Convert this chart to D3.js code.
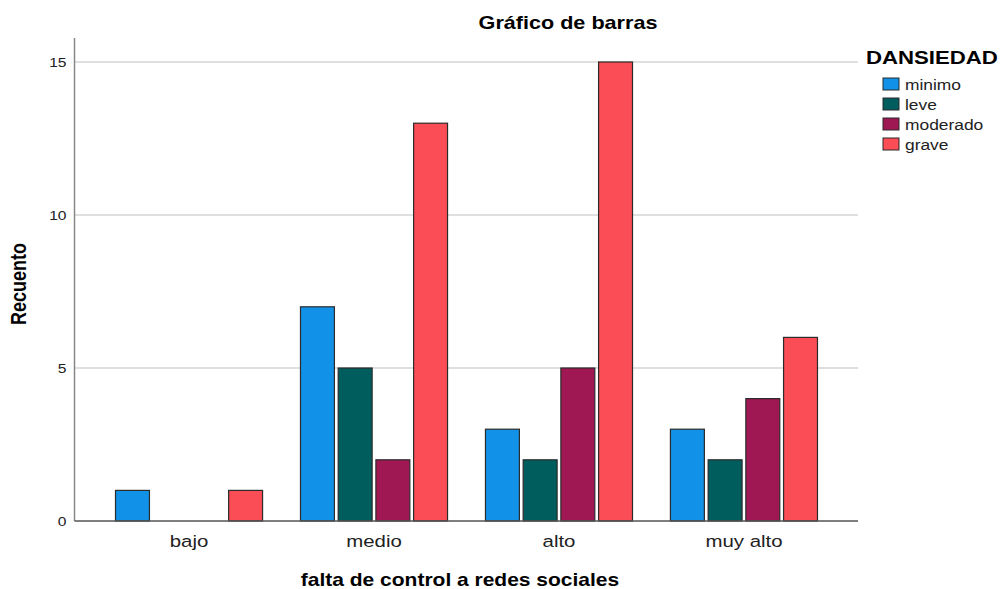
<!DOCTYPE html>
<html>
<head>
<meta charset="utf-8">
<script src="https://cdn.jsdelivr.net/npm/d3@7"></script>
<style>
  body { margin: 0; background: #fff; }
  svg { display: block; font-family: "Liberation Sans", Arial, sans-serif; }
</style>
</head>
<body>
<svg id="chart" width="1000" height="589"></svg>
<script>
const categories = ["bajo", "medio", "alto", "muy alto"];
const seriesNames = ["minimo", "leve", "moderado", "grave"];
const minimo = [1, 7, 3, 3];
const leve = [0, 5, 2, 2];
const moderado = [0, 2, 5, 4];
const grave = [1, 13, 15, 6];
const yTicks = [0, 5, 10, 15];
const colors = ["#1192E8", "#005D5D", "#9F1853", "#FA4D56"];

const seriesValues = [minimo, leve, moderado, grave];
const svg = d3.select("#chart");
const SX = 1.2; // horizontal text stretch

const mLeft = 75, mRight = 858, mTop = 38, mBottom = 521;

const x0 = d3.scaleBand().domain(categories).range([mLeft, mRight])
  .paddingInner(0.205).paddingOuter(0.219);
const x1 = d3.scaleBand().domain(seriesNames).range([0, x0.bandwidth()]).paddingInner(0.1);
const y = d3.scaleLinear().domain([0, 15]).range([mBottom, 62]);

// gridlines
svg.append("g").selectAll("line").data(yTicks.filter(d => d > 0)).join("line")
  .attr("x1", mLeft).attr("x2", mRight)
  .attr("y1", d => y(d)).attr("y2", d => y(d))
  .attr("stroke", "#d4d4d4").attr("stroke-width", 1.5);

// y tick labels
svg.append("g").selectAll("text").data(yTicks).join("text")
  .attr("transform", d => `translate(66.5,${y(d)}) scale(${SX},1)`).attr("dy", "0.36em")
  .attr("text-anchor", "end").attr("font-size", 13).attr("fill", "#222")
  .text(d => d);

// bars
const data = [];
categories.forEach((c, i) => seriesNames.forEach((s, j) => {
  if (seriesValues[j][i] > 0) data.push({c, s, v: seriesValues[j][i], color: colors[j]});
}));
svg.append("g").selectAll("rect").data(data).join("rect")
  .attr("x", d => x0(d.c) + x1(d.s))
  .attr("y", d => y(d.v))
  .attr("width", x1.bandwidth())
  .attr("height", d => y(0) - y(d.v))
  .attr("fill", d => d.color)
  .attr("stroke", "#2b2b2b").attr("stroke-width", 1.2);

// axes lines
svg.append("line").attr("x1", mLeft - 0.5).attr("x2", mLeft - 0.5).attr("y1", mTop).attr("y2", mBottom)
  .attr("stroke", "#888").attr("stroke-width", 1.5);
svg.append("line").attr("x1", mLeft - 0.5).attr("x2", mRight).attr("y1", mBottom).attr("y2", mBottom)
  .attr("stroke", "#555").attr("stroke-width", 1.5);

// category labels
svg.append("g").selectAll("text").data(categories).join("text")
  .attr("transform", d => `translate(${x0(d) + x0.bandwidth() / 2},547) scale(${SX},1)`)
  .attr("text-anchor", "middle").attr("font-size", 17).attr("fill", "#222")
  .text(d => d);

// titles
svg.append("text").attr("transform", `translate(568,29) scale(${SX},1)`).attr("text-anchor", "middle")
  .attr("font-size", 18).attr("font-weight", "bold").text("Gráfico de barras");
svg.append("text").attr("transform", `translate(460,586) scale(${SX},1)`).attr("text-anchor", "middle")
  .attr("font-size", 17.5).attr("font-weight", "bold").text("falta de control a redes sociales");
svg.append("text").attr("transform", `translate(26,284) scale(${SX},1) rotate(-90)`).attr("text-anchor", "middle")
  .attr("font-size", 18).attr("font-weight", "bold").text("Recuento");

// legend
svg.append("text").attr("transform", `translate(866,64) scale(${SX},1)`).attr("font-size", 18.5).attr("font-weight", "bold")
  .text("DANSIEDAD");
const lg = svg.append("g").selectAll("g").data(seriesNames).join("g")
  .attr("transform", (d, i) => `translate(883,${78 + i * 20})`);
lg.append("rect").attr("width", 16).attr("height", 12)
  .attr("fill", (d, i) => colors[i]).attr("stroke", "#2b2b2b").attr("stroke-width", 1);
lg.append("text").attr("transform", `translate(22,6.5) scale(${SX},1)`).attr("dy", "0.36em")
  .attr("font-size", 14.5).attr("fill", "#222").text(d => d);
</script>
</body>
</html>
